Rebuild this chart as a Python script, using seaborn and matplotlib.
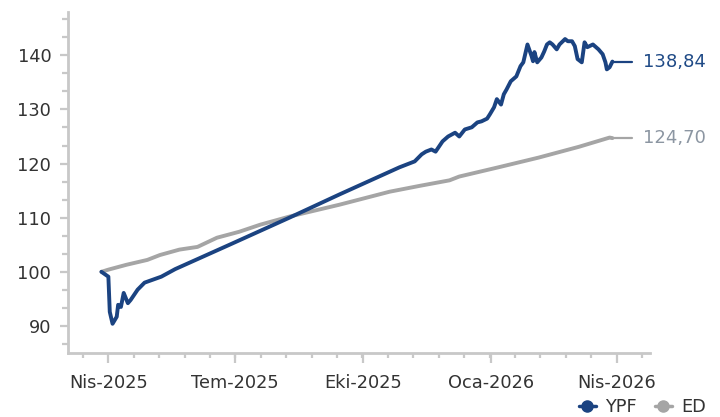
import pandas as pd
import numpy as np
import matplotlib
matplotlib.use("Agg")
import matplotlib.pyplot as plt
import matplotlib.dates as mdates
from matplotlib.lines import Line2D
from matplotlib.ticker import FixedLocator, MultipleLocator, AutoMinorLocator
import seaborn as sns

# YPF series
ypf_dates = ["2025-03-27", "2025-04-01", "2025-04-02", "2025-04-04", "2025-04-07", "2025-04-08",
             "2025-04-10", "2025-04-12", "2025-04-15", "2025-04-17", "2025-04-22", "2025-04-27",
             "2025-05-09", "2025-05-19", "2025-06-27", "2025-08-09", "2025-09-14", "2025-10-27",
             "2025-11-07", "2025-11-12", "2025-11-15", "2025-11-19", "2025-11-22", "2025-11-27",
             "2025-12-01", "2025-12-06", "2025-12-09", "2025-12-13", "2025-12-18", "2025-12-22",
             "2025-12-25", "2025-12-29", "2025-12-31", "2026-01-03", "2026-01-05", "2026-01-08",
             "2026-01-10", "2026-01-12", "2026-01-15", "2026-01-19", "2026-01-22", "2026-01-24",
             "2026-01-27", "2026-01-30", "2026-01-31", "2026-02-01", "2026-02-03", "2026-02-06",
             "2026-02-08", "2026-02-10", "2026-02-12", "2026-02-14", "2026-02-17", "2026-02-19",
             "2026-02-23", "2026-02-25", "2026-02-28", "2026-03-02", "2026-03-04", "2026-03-07",
             "2026-03-09", "2026-03-11", "2026-03-15", "2026-03-19", "2026-03-22", "2026-03-24",
             "2026-03-25", "2026-03-27", "2026-03-29"]
ypf_values = [100.0, 99.1, 92.6, 90.4, 91.7, 93.9,
              93.5, 96.1, 94.2, 94.8, 96.7, 98.0,
              99.1, 100.5, 105.0, 110.0, 114.3, 119.3,
              120.4, 121.7, 122.2, 122.6, 122.2, 124.1,
              125.0, 125.7, 125.0, 126.3, 126.7, 127.6,
              127.8, 128.3, 129.1, 130.4, 131.9, 130.9,
              132.8, 133.7, 135.2, 136.1, 138.0, 138.7,
              142.0, 139.8, 138.9, 140.6, 138.7, 139.6,
              140.7, 142.0, 142.4, 142.0, 141.1, 142.0,
              143.0, 142.6, 142.6, 141.7, 139.3, 138.7,
              142.4, 141.5, 142.0, 141.1, 140.2, 138.7,
              137.4, 137.8, 138.84]

# ED series
ed_dates = ["2025-03-27", "2025-04-01", "2025-04-14", "2025-04-29", "2025-05-08", "2025-05-22",
            "2025-06-04", "2025-06-18", "2025-07-04", "2025-07-19", "2025-08-09", "2025-09-14",
            "2025-10-20", "2025-11-11", "2025-12-02", "2025-12-09", "2026-01-06", "2026-02-04",
            "2026-03-05", "2026-03-27", "2026-03-29"]
ed_values = [100.0, 100.4, 101.3, 102.2, 103.1, 104.1,
             104.6, 106.3, 107.4, 108.7, 110.2, 112.4,
             114.8, 115.9, 116.9, 117.6, 119.3, 121.1,
             123.1, 124.8, 124.70]

series_names = ["YPF", "ED"]
series_colors = ["#1B4381", "#A5A5A5"]
label_colors = ["#1F4A86", "#8C96A2"]
label_texts = ["138,84", "124,70"]

quarter_starts = ["2025-04-01", "2025-07-01", "2025-10-01", "2026-01-01", "2026-04-01"]
quarter_labels = ["Nis-2025", "Tem-2025", "Eki-2025", "Oca-2026", "Nis-2026"]

df = pd.concat([
    pd.DataFrame({"date": pd.to_datetime(ypf_dates), "value": ypf_values, "series": "YPF"}),
    pd.DataFrame({"date": pd.to_datetime(ed_dates), "value": ed_values, "series": "ED"}),
])

sns.set_style("white")
plt.rcParams["font.family"] = ["DejaVu Sans"]

fig = plt.figure(figsize=(7.2, 4.17), dpi=100)
ax = fig.add_axes([68 / 720, 1 - 353 / 417, (650 - 68) / 720, (353 - 12) / 417])

sns.lineplot(data=df, x="date", y="value", hue="series", hue_order=series_names[::-1],
             palette=dict(zip(series_names, series_colors)), linewidth=2.8,
             legend=False, ax=ax, sort=True)

# leader lines and end labels
for name, col, lcol, txt in zip(series_names, series_colors, label_colors, label_texts):
    sub = df[df.series == name]
    last_d = sub.date.iloc[-1]
    last_v = sub.value.iloc[-1]
    ax.plot([last_d, last_d + pd.Timedelta(days=14)], [last_v, last_v], color=col, lw=1.6)
    ax.annotate(txt, (last_d, last_v), xytext=(22, 0), textcoords="offset points",
                color=lcol, fontsize=13, va="center", ha="left")

ax.set_xlim(pd.Timestamp("2025-03-03"), pd.Timestamp("2026-04-25"))
ax.set_ylim(85, 148)

q = mdates.date2num(pd.to_datetime(quarter_starts))
ax.xaxis.set_major_locator(FixedLocator(q))
ax.set_xticklabels(quarter_labels)
step = (q[-1] - q[0]) / (5 * (len(q) - 1))
minor = np.arange(q[0] - step, q[-1] + step * 1.01, step)
ax.xaxis.set_minor_locator(FixedLocator(minor))

ax.yaxis.set_major_locator(MultipleLocator(10))
ax.yaxis.set_minor_locator(AutoMinorLocator(3))

ax.set_xlabel("")
ax.set_ylabel("")
for s in ["top", "right"]:
    ax.spines[s].set_visible(False)
for s in ["left", "bottom"]:
    ax.spines[s].set_color("#C8C8C8")
    ax.spines[s].set_linewidth(2)

ax.tick_params(axis="both", which="both", color="#C8C8C8", width=1.6, labelsize=12.8,
               labelcolor="#333333")
ax.tick_params(axis="x", which="major", length=7, pad=8)
ax.tick_params(axis="x", which="minor", length=3.5)
ax.tick_params(axis="y", which="major", length=6, pad=6)
ax.tick_params(axis="y", which="minor", length=4)
ax.tick_params(axis="both", which="both", direction="out", bottom=True, left=True)

handles = [Line2D([0], [0], color=c, marker="o", markersize=8, lw=2.5) for c in series_colors]
fig.legend(handles, series_names, loc="center right", bbox_to_anchor=(722 / 720, 1 - 407 / 417),
           ncol=2, frameon=False, fontsize=12.8, handlelength=1.0, columnspacing=1.0,
           handletextpad=0.5, labelcolor="#333333")

fig.savefig("out.png", dpi=100)
